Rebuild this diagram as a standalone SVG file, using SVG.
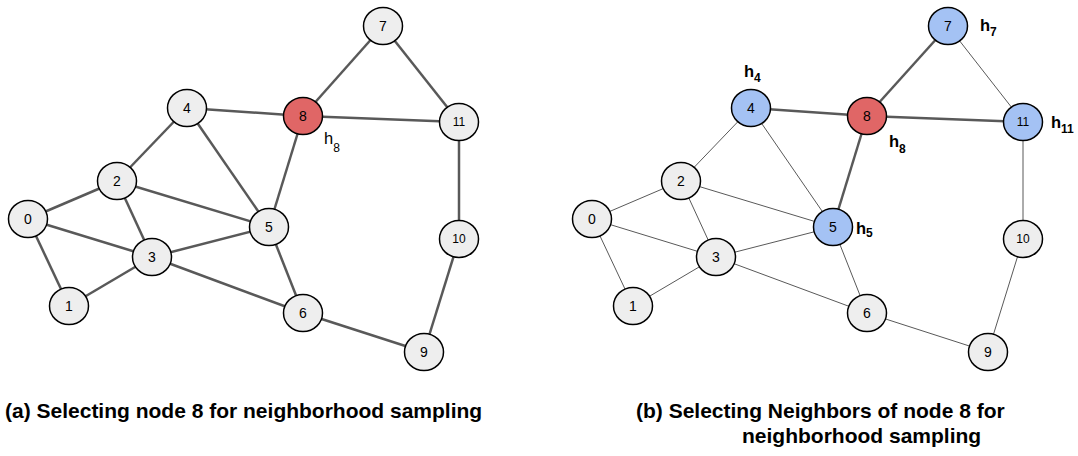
<svg xmlns="http://www.w3.org/2000/svg" width="1078" height="456" viewBox="0 0 1078 456">
<style>
.e{stroke:#595959;stroke-width:2.5;fill:none}
.t{stroke:#595959;stroke-width:1;fill:none}
.n ellipse{fill:#eeeeee;stroke:#000;stroke-width:1.5}
.r ellipse{fill:#e06666}
.b ellipse{fill:#a4c2f4}
.n text{font-family:"Liberation Sans",Arial,sans-serif;font-size:14px;fill:#000;text-anchor:middle}
.n text.s{font-size:12px}
.h{font-family:"Liberation Sans",Arial,sans-serif;font-size:16.5px;fill:#000}
.hb{font-family:"Liberation Sans",Arial,sans-serif;font-size:16.5px;font-weight:bold;fill:#000}
.sub{font-size:12px}
.cap{font-family:"Liberation Sans",Arial,sans-serif;font-size:21px;font-weight:bold;fill:#000}
</style>
<g id="connectors-a">
<line class="e" x1="383" y1="26" x2="303" y2="116"/>
<line class="e" x1="383" y1="26" x2="459" y2="122"/>
<line class="e" x1="187" y1="108" x2="303" y2="116"/>
<line class="e" x1="303" y1="116" x2="459" y2="122"/>
<line class="e" x1="187" y1="108" x2="117" y2="181"/>
<line class="e" x1="187" y1="108" x2="269" y2="227"/>
<line class="e" x1="303" y1="116" x2="269" y2="227"/>
<line class="e" x1="117" y1="181" x2="28" y2="219"/>
<line class="e" x1="117" y1="181" x2="152" y2="257"/>
<line class="e" x1="117" y1="181" x2="269" y2="227"/>
<line class="e" x1="28" y1="219" x2="152" y2="257"/>
<line class="e" x1="28" y1="219" x2="69" y2="306"/>
<line class="e" x1="69" y1="306" x2="152" y2="257"/>
<line class="e" x1="152" y1="257" x2="269" y2="227"/>
<line class="e" x1="152" y1="257" x2="303" y2="313"/>
<line class="e" x1="269" y1="227" x2="303" y2="313"/>
<line class="e" x1="303" y1="313" x2="424" y2="352"/>
<line class="e" x1="424" y1="352" x2="459" y2="239"/>
<line class="e" x1="459" y1="239" x2="459" y2="122"/>
</g>
<g id="connectors-b">
<line class="e" x1="948" y1="26" x2="867" y2="116"/>
<line class="t" x1="948" y1="26" x2="1023" y2="122"/>
<line class="e" x1="751" y1="108" x2="867" y2="116"/>
<line class="e" x1="867" y1="116" x2="1023" y2="122"/>
<line class="t" x1="751" y1="108" x2="681" y2="181"/>
<line class="t" x1="751" y1="108" x2="833" y2="227"/>
<line class="e" x1="867" y1="116" x2="833" y2="227"/>
<line class="t" x1="681" y1="181" x2="592" y2="219"/>
<line class="t" x1="681" y1="181" x2="716" y2="257"/>
<line class="t" x1="681" y1="181" x2="833" y2="227"/>
<line class="t" x1="592" y1="219" x2="716" y2="257"/>
<line class="t" x1="592" y1="219" x2="633" y2="306"/>
<line class="t" x1="633" y1="306" x2="716" y2="257"/>
<line class="t" x1="716" y1="257" x2="833" y2="227"/>
<line class="t" x1="716" y1="257" x2="867" y2="313"/>
<line class="t" x1="833" y1="227" x2="867" y2="313"/>
<line class="t" x1="867" y1="313" x2="988" y2="352"/>
<line class="t" x1="988" y1="352" x2="1023" y2="239"/>
<line class="t" x1="1023" y1="239" x2="1023" y2="122"/>
</g>
<g id="a-node0" class="n"><ellipse cx="28" cy="219" rx="19.5" ry="18.5"/><text x="28" y="224">0</text></g>
<g id="a-node1" class="n"><ellipse cx="69" cy="306" rx="19.5" ry="18.5"/><text x="69" y="311">1</text></g>
<g id="a-node2" class="n"><ellipse cx="117" cy="181" rx="19.5" ry="18.5"/><text x="117" y="186">2</text></g>
<g id="a-node3" class="n"><ellipse cx="152" cy="257" rx="19.5" ry="18.5"/><text x="152" y="262">3</text></g>
<g id="a-node4" class="n"><ellipse cx="187" cy="108" rx="19.5" ry="18.5"/><text x="187" y="113">4</text></g>
<g id="a-node5" class="n"><ellipse cx="269" cy="227" rx="19.5" ry="18.5"/><text x="269" y="232">5</text></g>
<g id="a-node6" class="n"><ellipse cx="303" cy="313" rx="19.5" ry="18.5"/><text x="303" y="318">6</text></g>
<g id="a-node7" class="n"><ellipse cx="383" cy="26" rx="19.5" ry="18.5"/><text x="383" y="31">7</text></g>
<g id="a-node8" class="n r"><ellipse cx="303" cy="116" rx="19.5" ry="18.5"/><text x="303" y="121">8</text></g>
<g id="a-node9" class="n"><ellipse cx="424" cy="352" rx="19.5" ry="18.5"/><text x="424" y="357">9</text></g>
<g id="a-node10" class="n"><ellipse cx="459" cy="239" rx="19.5" ry="18.5"/><text class="s" x="459" y="243">10</text></g>
<g id="a-node11" class="n"><ellipse cx="459" cy="122" rx="19.5" ry="18.5"/><text class="s" x="459" y="126">11</text></g>
<g id="a-label-h8"><text class="h" x="324" y="144">h<tspan class="sub" dy="8">8</tspan></text></g>
<g id="b-node0" class="n"><ellipse cx="592" cy="219" rx="19.5" ry="18.5"/><text x="592" y="224">0</text></g>
<g id="b-node1" class="n"><ellipse cx="633" cy="306" rx="19.5" ry="18.5"/><text x="633" y="311">1</text></g>
<g id="b-node2" class="n"><ellipse cx="681" cy="181" rx="19.5" ry="18.5"/><text x="681" y="186">2</text></g>
<g id="b-node3" class="n"><ellipse cx="716" cy="257" rx="19.5" ry="18.5"/><text x="716" y="262">3</text></g>
<g id="b-node4" class="n b"><ellipse cx="751" cy="108" rx="19.5" ry="18.5"/><text x="751" y="113">4</text></g>
<g id="b-node5" class="n b"><ellipse cx="833" cy="227" rx="19.5" ry="18.5"/><text x="833" y="232">5</text></g>
<g id="b-node6" class="n"><ellipse cx="867" cy="313" rx="19.5" ry="18.5"/><text x="867" y="318">6</text></g>
<g id="b-node7" class="n b"><ellipse cx="948" cy="26" rx="19.5" ry="18.5"/><text x="948" y="31">7</text></g>
<g id="b-node8" class="n r"><ellipse cx="867" cy="116" rx="19.5" ry="18.5"/><text x="867" y="121">8</text></g>
<g id="b-node9" class="n"><ellipse cx="988" cy="352" rx="19.5" ry="18.5"/><text x="988" y="357">9</text></g>
<g id="b-node10" class="n"><ellipse cx="1023" cy="239" rx="19.5" ry="18.5"/><text class="s" x="1023" y="243">10</text></g>
<g id="b-node11" class="n b"><ellipse cx="1023" cy="122" rx="19.5" ry="18.5"/><text class="s" x="1023" y="126">11</text></g>
<g id="b-label-h4"><text class="hb" x="744" y="77">h<tspan class="sub" dy="5">4</tspan></text></g>
<g id="b-label-h5"><text class="hb" x="856" y="234">h<tspan class="sub" dy="3">5</tspan></text></g>
<g id="b-label-h7"><text class="hb" x="980" y="31">h<tspan class="sub" dy="5">7</tspan></text></g>
<g id="b-label-h8"><text class="hb" x="889" y="147">h<tspan class="sub" dy="6">8</tspan></text></g>
<g id="b-label-h11"><text class="hb" x="1051" y="128">h<tspan class="sub" dy="5">11</tspan></text></g>
<g id="captions">
<text class="cap" x="5" y="418">(a) Selecting node 8 for neighborhood sampling</text>
<text class="cap" x="636" y="418">(b) Selecting Neighbors of node 8 for</text>
<text class="cap" x="742" y="443">neighborhood sampling</text>
</g>
</svg>
